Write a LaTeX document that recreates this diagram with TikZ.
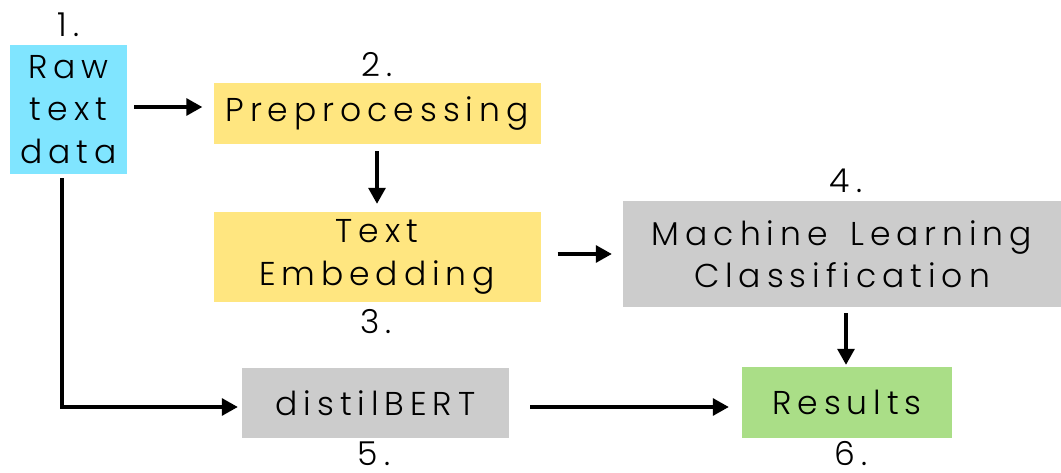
\documentclass[tikz,border=0pt]{standalone}
\usepackage{fontspec}
\setmainfont{Poppins Light}[LetterSpace=18, WordSpace=1.5]
\usetikzlibrary{arrows.meta}
\definecolor{cyanbox}{RGB}{128,229,255}
\definecolor{yellowbox}{RGB}{255,230,128}
\definecolor{graybox}{RGB}{204,204,204}
\definecolor{greenbox}{RGB}{170,222,135}
\tikzset{
  box/.style={draw=none, inner sep=0pt, align=center, text=black,
    font=\fontsize{33}{42.5}\selectfont},
  num/.style={inner sep=0pt, anchor=base, text=black,
    font=\fontsize{33}{42.5}\selectfont},
  arr/.style={line width=3.2pt, -{Triangle[length=16pt,width=17pt]}},
}
\begin{document}
\begin{tikzpicture}[x=1pt,y=-1pt]
\useasboundingbox (0,0) rectangle (1061,473);
% boxes
\node[box, fill=cyanbox, minimum width=117pt, minimum height=129pt] (raw) at (68.5,109.5) {Raw\\text\\data};
\node[box, fill=yellowbox, minimum width=327pt, minimum height=61pt] (pre) at (377,113.5) {Preprocessing};
\node[box, fill=yellowbox, minimum width=327pt, minimum height=90pt] (emb) at (377,257) {Text\\Embedding};
\node[box, fill=graybox, minimum width=438pt, minimum height=106pt] (ml) at (842,254) {Machine Learning\\Classification};
\node[box, fill=graybox, minimum width=267pt, minimum height=70pt] (dist) at (375.5,403) {distilBERT};
\node[box, fill=greenbox, minimum width=210pt, minimum height=71pt] (res) at (847,402.5) {Results};
% numbers
\node[num] (n1) at (68.5,37) {1.};
\node[num] (n2) at (377,77) {2.};
\node[num] (n3) at (376,334) {3.};
\node[num] (n4) at (846,193) {4.};
\node[num] (n5) at (374,465) {5.};
\node[num] (n6) at (851,465) {6.};
% connectors
\draw[arr, shorten <=7pt, shorten >=11pt] (raw.east |- 0,107) -- (pre.west |- 0,107);
\draw[arr, shorten <=7pt, shorten >=8pt] (pre.south) -- (emb.north);
\draw[arr, shorten <=17pt, shorten >=11pt] (emb.east |- 0,254) -- (ml.west |- 0,254);
\draw[arr, shorten <=6pt, shorten >=2pt] (ml.south -| 846,0) -- (res.north -| 846,0);
\draw[arr, shorten <=21pt, shorten >=13pt] (dist.east |- 0,407) -- (res.west |- 0,407);
\coordinate (bend) at (62,407);
\draw[arr, shorten <=4pt, shorten >=4pt] (raw.south -| bend) -- (bend) -- (dist.west |- bend);
\end{tikzpicture}
\end{document}
